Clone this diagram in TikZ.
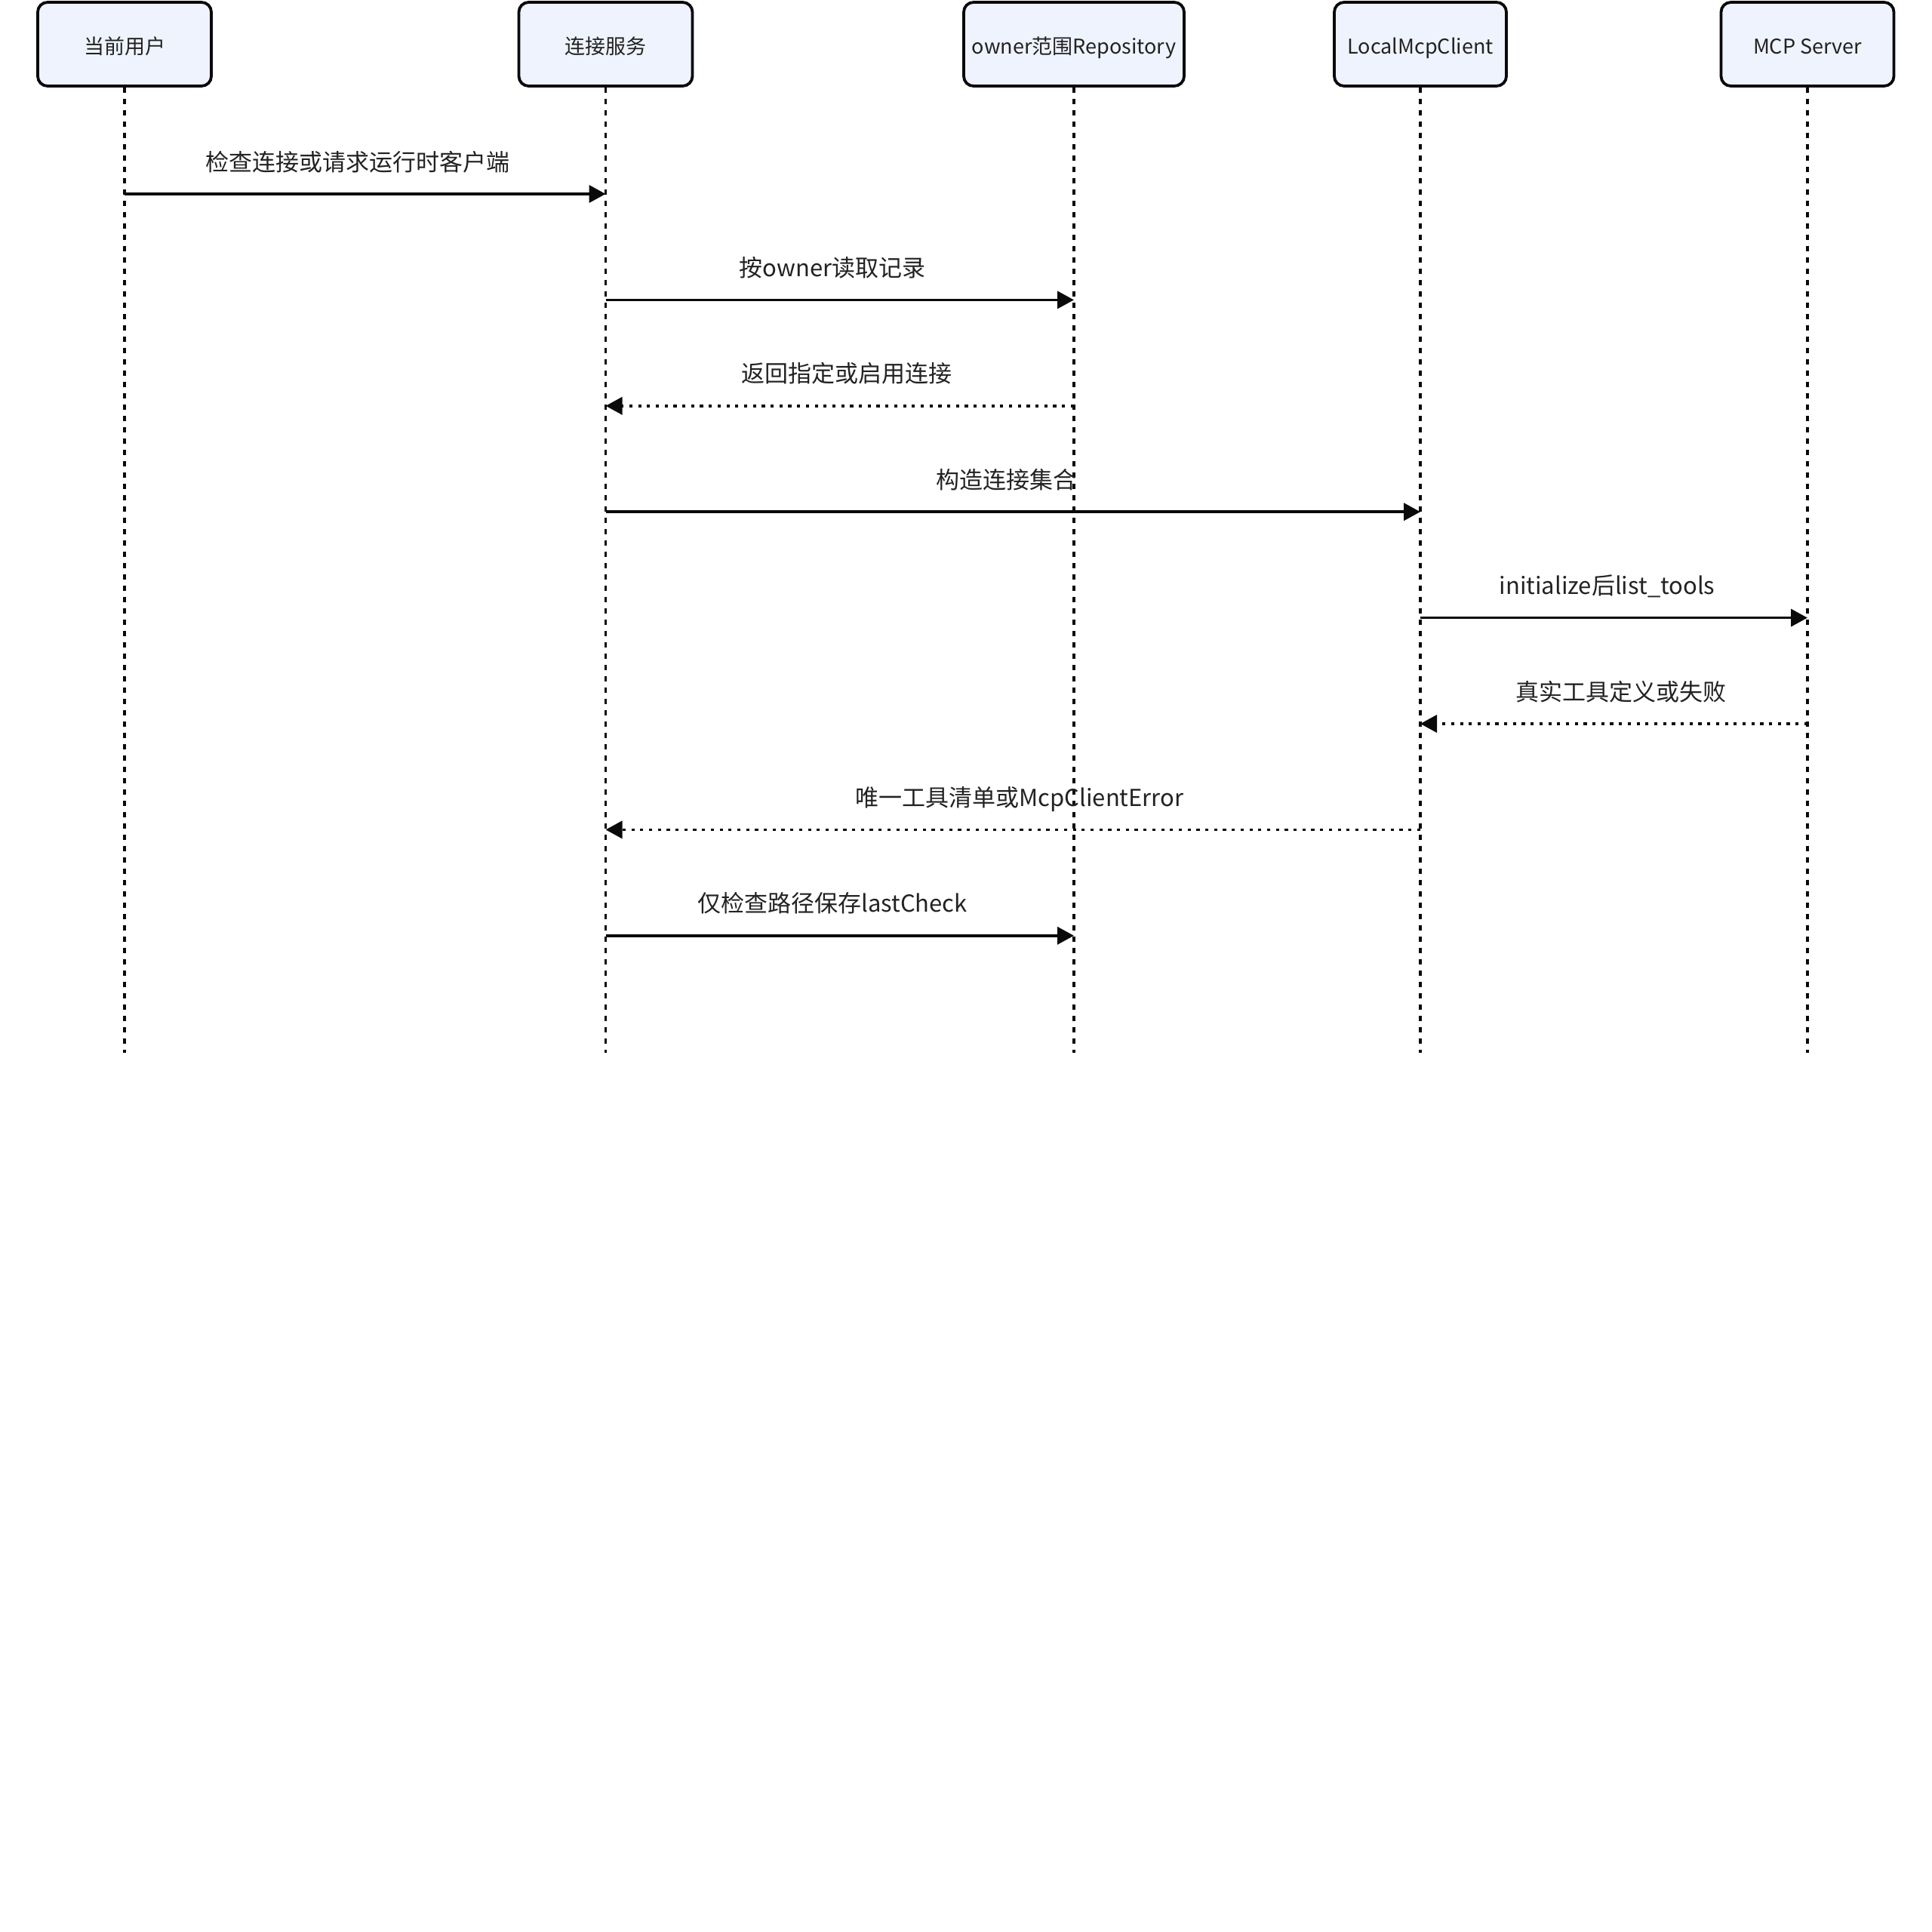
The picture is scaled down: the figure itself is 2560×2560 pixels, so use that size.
\documentclass[tikz,border=0pt]{standalone}
\usepackage{fontspec}
\setmainfont{Noto Sans CJK SC}
\usetikzlibrary{arrows.meta}
\definecolor{boxfill}{RGB}{239,243,253}
\definecolor{ink}{RGB}{10,10,10}
\definecolor{txt}{RGB}{34,34,34}
\tikzset{
  actor/.style={draw=ink, line width=3.8pt, fill=boxfill, rounded corners=13pt,
    minimum height=111pt, inner sep=0pt, text height=25pt, text depth=0pt,
    font=\fontsize{27pt}{30pt}\selectfont, text=txt},
  life/.style={draw=ink, line width=3.4pt, dash pattern=on 7.5pt off 7.5pt},
  msg/.style={draw=ink, line width=3.6pt, -{Triangle[length=22pt,width=23pt]}},
  ret/.style={draw=ink, line width=3.6pt, dash pattern=on 4.2pt off 7.5pt, -{Triangle[length=22pt,width=23pt]}},
  lbl/.style={anchor=base, inner sep=0pt, font=\fontsize{31pt}{34pt}\selectfont, text=txt}
}
\begin{document}
\begin{tikzpicture}[x=1pt,y=-1pt]
\useasboundingbox (0,0) rectangle (2560,2560);
% actors
\node[actor, minimum width=230pt] (user) at (165,58.5) {当前用户};
\node[actor, minimum width=230pt] (conn) at (802.5,58.5) {连接服务};
\node[actor, minimum width=292pt] (repo) at (1423,58.5) {owner范围Repository};
\node[actor, minimum width=228pt] (local) at (1882,58.5) {LocalMcpClient};
\node[actor, minimum width=229pt] (mcp) at (2395,58.5) {MCP Server};
% lifeline ends
\coordinate (bot) at (0,1395);
\coordinate (userB) at (user.south |- bot);
\coordinate (connB) at (conn.south |- bot);
\coordinate (repoB) at (repo.south |- bot);
\coordinate (localB) at (local.south |- bot);
\coordinate (mcpB) at (mcp.south |- bot);
\draw[life] (user.south) -- (userB);
\draw[life] (conn.south) -- (connB);
\draw[life] (repo.south) -- (repoB);
\draw[life] (local.south) -- (localB);
\draw[life] (mcp.south) -- (mcpB);
% message rows
\coordinate (r1) at (0,257);
\coordinate (r2) at (0,397.4);
\coordinate (r3) at (0,537.8);
\coordinate (r4) at (0,678.2);
\coordinate (r5) at (0,818.6);
\coordinate (r6) at (0,959);
\coordinate (r7) at (0,1099.4);
\coordinate (r8) at (0,1239.8);
\draw[msg] (user |- r1) -- (conn |- r1);
\draw[msg] (conn |- r2) -- (repo |- r2);
\draw[ret] (repo |- r3) -- (conn |- r3);
\draw[msg] (conn |- r4) -- (local |- r4);
\draw[msg] (local |- r5) -- (mcp |- r5);
\draw[ret] (mcp |- r6) -- (local |- r6);
\draw[ret] (local |- r7) -- (conn |- r7);
\draw[msg] (conn |- r8) -- (repo |- r8);
% labels
\node[lbl] (l1) at (474,226) {检查连接或请求运行时客户端};
\node[lbl] (l2) at (1103,366.4) {按owner读取记录};
\node[lbl] (l3) at (1122,506.8) {返回指定或启用连接};
\node[lbl] (l4) at (1333,647.2) {构造连接集合};
\node[lbl] (l5) at (2129.5,787.6) {initialize后list\_tools};
\node[lbl] (l6) at (2147.5,928) {真实工具定义或失败};
\node[lbl] (l7) at (1351,1068.4) {唯一工具清单或McpClientError};
\node[lbl] (l8) at (1103,1208.8) {仅检查路径保存lastCheck};
\end{tikzpicture}
\end{document}
